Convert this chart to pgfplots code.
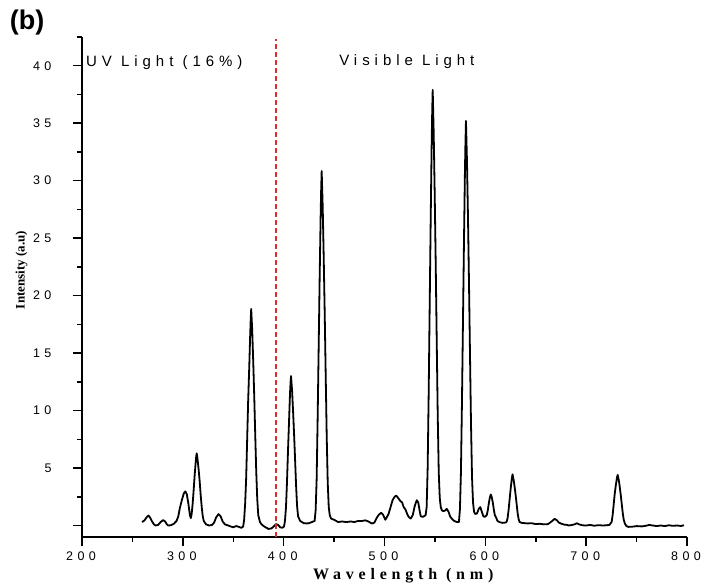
\documentclass[border=0pt]{standalone}
\usepackage{fontspec}
\usepackage{pgfplots}
\pgfplotsset{compat=1.18}
\setmainfont{Liberation Serif}
\newfontfamily\ticksf[LetterSpace=35]{Liberation Sans}
\newfontfamily\notesf[LetterSpace=33]{Liberation Sans}
\newfontfamily\xlabfont[LetterSpace=30]{Liberation Serif}
\newfontfamily\panelsf{Liberation Sans}
\definecolor{redline}{RGB}{220,45,40}

\begin{document}
\begin{tikzpicture}
\useasboundingbox (0,0) rectangle (704pt,586pt);
\begin{axis}[
    at={(82pt,49pt)}, anchor=south west,
    scale only axis, width=605pt, height=500pt,
    xmin=200, xmax=800, ymin=-1, ymax=42.5,
    axis x line*=bottom, axis y line*=left,
    axis line style={line width=1.8pt},
    xtick={200,300,...,800},
    minor xtick={250,350,...,750},
    ytick={0,5,...,40},
    yticklabels={,5,10,15,20,25,30,35,40},
    minor ytick={2.5,7.5,...,42.5},
    tick align=outside,
    major tick length=9pt, minor tick length=5pt,
    every tick/.style={black, line width=1.5pt},
    /pgf/number format/assume math mode=true,
    /pgf/number format/1000 sep={},
    ticklabel style={font=\fontsize{12.5}{14}\ticksf},
    xticklabel style={yshift=-2pt, xshift=-1pt},
    yticklabel style={xshift=-18pt},
    xlabel={\xlabfont\bfseries Wavelength (nm)},
    xlabel style={font=\fontsize{16}{18}\selectfont, at={(axis description cs:0.531,-0.078)}, anchor=center},
    ylabel={\textbf{Intensity (a.u)}},
    ylabel style={font=\fontsize{13}{15}\selectfont, at={(axis description cs:-0.1,0.534)}, anchor=center},
]
% spectrum
\addplot[black, line width=1.8pt, line join=round] coordinates {
(259.6,0.3)(262,0.45)(264,0.7)(265.8,0.87)(267.5,0.7)(269.5,0.35)(271.5,0.08)(273,0.0)
(275.5,0.05)(278,0.3)(280.4,0.47)(282.5,0.35)(284,0.12)(285.5,0.0)(288,0.02)(291,0.15)
(293.8,0.4)(295.5,0.8)(297,1.5)(299,2.2)(301,2.8)(302.5,2.97)(304,2.7)(305.5,1.9)(307,0.9)
(307.9,0.64)(308.75,1.0)(309.75,1.9)(310.75,3.1)(311.75,4.4)(312.75,5.5)(313.25,6.0)
(313.75,6.28)(314.25,6.0)(314.75,5.65)(315.75,4.8)(316.75,3.8)(317.75,2.6)(318.75,1.6)
(319.75,0.8)(320.75,0.4)(323,0.1)(326,0.0)(329,0.05)(331,0.25)(333,0.7)(335.4,0.99)
(337.5,0.8)(339.5,0.35)(341.7,0.1)(345,0.0)(348,-0.1)(350,-0.15)(353,-0.05)(355,-0.1)
(358,-0.2)(359.8,-0.1)(360.8,0.5)(361.8,1.9)(362.8,4.1)(363.8,7.5)(364.8,10.9)
(365.8,13.6)(366.8,16.6)(367.3,17.9)(367.8,18.84)(368.3,17.9)(368.8,17.0)(369.8,14.3)
(370.8,11.3)(371.8,7.9)(372.8,4.7)(373.8,2.3)(374.8,0.9)(376.5,0.3)(378,0.1)
(381,-0.1)(385,-0.3)(388,-0.25)(390.5,-0.05)(392.5,0.12)(394.5,0.05)
(396.5,-0.15)(398.5,-0.2)(400.3,-0.1)(401.3,0.4)(402.3,1.6)(403.3,3.8)(404.3,6.5)
(405.3,9.0)(406.3,11.5)(406.8,12.4)(407.3,13.0)(407.8,12.4)(408.3,11.8)(409.3,10.0)
(410.3,8.0)(411.3,5.8)(412.3,3.5)(413.3,1.7)(414.3,0.8)(416.3,0.4)(420,0.2)
(423,0.18)(425,0.2)(428,0.3)(430.7,0.4)(431.7,1.3)(432.7,4.0)(433.7,9.3)(434.7,15.4)
(435.7,21.6)(436.7,27.1)(437.2,29.3)(437.7,30.84)(438.2,29.3)(438.7,27.8)(439.7,23.4)
(440.7,18.5)(441.7,13.0)(442.7,7.7)(443.7,3.7)(444.7,1.6)(445.7,0.9)(447,0.6)
(450,0.5)(454,0.3)(458,0.35)(462,0.3)(466.7,0.35)(470,0.3)(474,0.4)(478,0.4)
(481,0.45)(484,0.35)(487.5,0.17)(490,0.25)(492.5,0.7)(494.5,0.95)(496.7,1.1)
(498.5,0.95)(500.8,0.5)(502.5,0.75)(504,1.0)(506,1.6)(508,2.2)(510,2.5)(511.7,2.6)
(513.5,2.4)(515.5,2.15)(517.5,2.0)(519,1.6)(520.8,1.4)(522.5,1.0)(524,0.75)(526,0.6)
(528,0.9)(530,1.7)(532,2.2)(533.5,2.0)(535,1.2)(536,0.8)(538,0.75)(540.8,0.9)
(541.8,1.6)(542.8,5.0)(543.8,11.4)(544.8,19.0)(545.8,26.5)(546.8,33.4)(547.3,36.0)
(547.8,37.9)(548.3,36.0)(548.8,34.1)(549.8,28.8)(550.8,22.7)(551.8,16.0)(552.8,9.5)
(553.8,4.6)(554.8,2.4)(555.8,1.6)(557,1.3)(558.5,1.25)(560,1.3)(561.7,1.45)
(563.5,1.2)(565,0.8)(566.7,0.6)(569,0.4)(572,0.3)(573.8,0.3)(574.8,1.4)(575.8,4.6)
(576.8,10.6)(577.8,17.6)(578.8,24.6)(579.8,31.0)(580.3,33.4)(580.8,35.2)(581.3,33.4)
(581.8,31.7)(582.8,26.8)(583.8,21.1)(584.8,14.8)(585.8,8.8)(586.8,4.2)(587.8,2.0)
(588.8,1.2)(590,1.0)(591.7,1.05)(593.5,1.45)(595,1.6)(596.5,1.2)(598,0.8)(599.5,0.75)
(601.4,0.9)(602.4,1.3)(603.4,1.9)(604.4,2.4)(605.4,2.7)(606.4,2.45)(607.4,2.0)
(608.4,1.4)(609.4,0.9)(610.4,0.75)(612,0.4)(614,0.3)(616.7,0.23)(619.5,0.25)
(621,0.3)(622,0.6)(623,1.3)(624,2.2)(625,3.1)(626,3.9)(626.5,4.2)(627,4.45)(627.5,4.2)
(628,4.0)(629,3.4)(630,2.7)(631,1.9)(632,1.1)(633,0.55)(634,0.3)(636,0.23)
(642,0.18)(646,0.2)(650,0.12)(654,0.15)(658,0.1)(662,0.12)(665,0.3)(668.75,0.58)
(671,0.45)(673,0.25)(675,0.17)(678,0.08)(681,0.05)(683,0.0)(686,0.05)(688.5,0.1)
(690.8,0.2)(693,0.1)(696,0.02)(700,0.0)(704,0.05)(708,-0.02)(712,0.03)(716.7,0.0)
(720,0.02)(723,0.05)(725.25,0.3)(726.25,0.9)(727.25,1.8)(728.25,2.7)(729.25,3.4)
(730.25,4.0)(730.75,4.25)(731.25,4.4)(731.75,4.2)(732.25,4.0)(733.25,3.4)(734.25,2.7)
(735.25,1.9)(736.25,1.1)(737.25,0.5)(738.5,0.15)(740,-0.05)
(741.7,-0.12)(746,-0.1)(750,-0.05)(755,-0.08)(759,-0.03)(762.5,0.05)(766,0.0)
(770,-0.05)(774,0.0)(778,-0.05)(782,0.02)(786,-0.03)(790,0.0)(794,-0.04)(797,0.02)
};
% UV / visible boundary
\addplot[redline, line width=1.6pt, dash pattern=on 5pt off 3pt] coordinates {(392.5,-1)(392.5,42.3)};
\node[anchor=west, inner sep=0pt, font=\fontsize{15}{17}\notesf] at (axis cs:204,40.26) {UV Light (16\%)};
\node[anchor=west, inner sep=0pt, font=\fontsize{15}{17}\notesf] at (axis cs:455,40.4) {Visible Light};
\end{axis}
\node[font=\fontsize{27}{30}\panelsf\bfseries] at (27pt,563pt) {(b)};
\end{tikzpicture}
\end{document}
